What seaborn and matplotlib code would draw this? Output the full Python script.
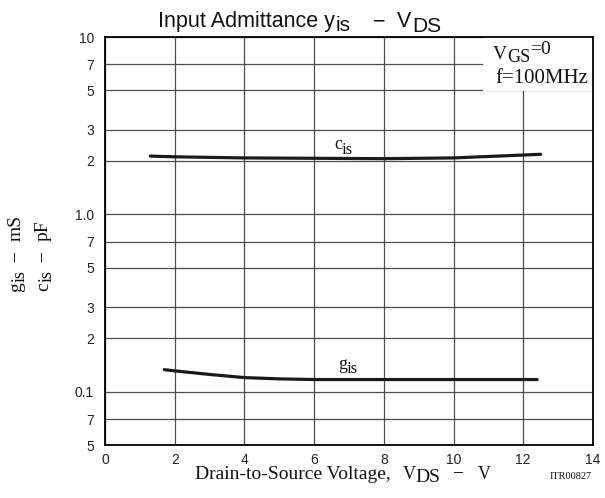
import pandas as pd
import matplotlib
matplotlib.use("Agg")
import matplotlib.pyplot as plt
import seaborn as sns
from matplotlib.ticker import FixedLocator, NullLocator
from matplotlib.transforms import IdentityTransform
from matplotlib.patches import Rectangle

# c_is (pF) against V_DS (V)
vds_cis = [1.3, 2, 4, 6, 8, 10, 12.5]
cis = [2.13, 2.11, 2.08, 2.07, 2.06, 2.08, 2.18]

# g_is (mS) against V_DS (V)
vds_gis = [1.7, 2, 3, 4, 5, 6, 8, 10, 12.4]
gis = [0.133, 0.131, 0.125, 0.12, 0.118, 0.117, 0.117, 0.117, 0.117]

y_ticks = [0.05, 0.07, 0.1, 0.2, 0.3, 0.5, 0.7, 1.0, 2, 3, 5, 7, 10]
y_labels = ["5", "7", "0.1", "2", "3", "5", "7", "1.0", "2", "3", "5", "7", "10"]
x_ticks = [0, 2, 4, 6, 8, 10, 12, 14]

SANS = "Liberation Sans"
SERIF = "Liberation Serif"
INK = "#111111"

sns.set_theme(style="white")
plt.rcParams["font.family"] = [SANS, "DejaVu Sans"]

fig = plt.figure(figsize=(6.05, 4.98), dpi=100)
ax = fig.add_axes([0.1736, 0.1064, 0.8064, 0.8193])


def rich(x, y, parts, family, rot=0):
    # parts: (text, size, drop_px, gap_px); x, y = start of baseline, pixels from top-left
    r = fig.canvas.get_renderer()
    H = fig.bbox.height
    pos = 0.0
    for s, size, dy, gap in parts:
        pos += gap
        if rot == 0:
            px, py = x + pos, H - (y + dy)
        else:
            px, py = x + dy, H - (y - pos)
        t = fig.text(px, py, s, transform=IdentityTransform(), fontsize=size,
                     family=family, rotation=rot, rotation_mode="anchor",
                     ha="left", va="baseline", color=INK, zorder=6)
        bb = t.get_window_extent(r)
        pos += bb.width if rot == 0 else bb.height


df_c = pd.DataFrame({"vds": vds_cis, "val": cis})
df_g = pd.DataFrame({"vds": vds_gis, "val": gis})
sns.lineplot(data=df_c, x="vds", y="val", ax=ax, color="#1a1a1a", linewidth=2.3, zorder=3)
sns.lineplot(data=df_g, x="vds", y="val", ax=ax, color="#1a1a1a", linewidth=2.3, zorder=3)

ax.set_yscale("log")
ax.set_ylim(0.05, 10)
ax.set_xlim(0, 14)
ax.yaxis.set_major_locator(FixedLocator(y_ticks))
ax.yaxis.set_minor_locator(NullLocator())
ax.set_yticklabels(y_labels)
ax.set_xticks(x_ticks)
ax.set_xticklabels([str(v) for v in x_ticks])
ax.tick_params(axis="both", length=0, labelsize=10, colors="#222222")
ax.tick_params(axis="y", pad=8)
ax.tick_params(axis="x", pad=6)
for lab in ax.get_xticklabels() + ax.get_yticklabels():
    lab.set_fontfamily(SANS)

ax.set_axisbelow(True)
ax.grid(True, which="major", color="#4d4d4d", linewidth=0.9)
for s in ax.spines.values():
    s.set_color("black")
    s.set_linewidth(1.3)
    s.set_zorder(5)
ax.set_xlabel("")
ax.set_ylabel("")

# white box behind the condition note (over the grid, under the frame)
ax.add_patch(Rectangle((0.775, 0.867), 0.225, 0.133, transform=ax.transAxes,
                       facecolor="white", edgecolor="none", zorder=1))

fig.canvas.draw()

# title
rich(158, 27, [("Input Admittance y", 15.5, 0, 0), ("is", 15, 4, 1),
               ("\u2212", 15.5, 0, 22), ("V", 15.5, 0, 12), ("DS", 15, 5, 0)], SANS)

# curve labels
rich(334, 149, [("c", 13, 0, 0), ("is", 12, 5, 0)], SERIF)
rich(338, 369, [("g", 13, 0, 0), ("is", 12, 4, 0)], SERIF)

# condition note
rich(493, 59, [("V", 14, 0, 0), ("GS", 13, 3, 0), ("=0", 14, -5, 0)], SERIF)
rich(495, 83, [("f=100MHz", 15, 0, 0)], SERIF)

# y axis label (two rotated lines)
rich(21, 292, [("g", 14, 0, 0), ("is", 13, 4, 0), ("\u2212", 14, 0, 9),
               ("mS", 14, 0, 9)], SERIF, rot=90)
rich(48, 291, [("c", 14, 0, 0), ("is", 13, 4, 0), ("\u2212", 14, 0, 9),
               ("pF", 14, 0, 9)], SERIF, rot=90)

# x axis label
rich(195, 479, [("Drain-to-Source Voltage,", 14, 0, 0), ("V", 13, 0, 12),
                ("DS", 14, 3, 0), ("\u2212", 14, 0, 12), ("V", 13, 0, 14)], SERIF)
fig.text(0.978, 1 - 479 / 498, "ITR00827", family=SERIF, fontsize=7.5, ha="right",
         va="baseline", color=INK)

fig.savefig("out.png", dpi=100)
